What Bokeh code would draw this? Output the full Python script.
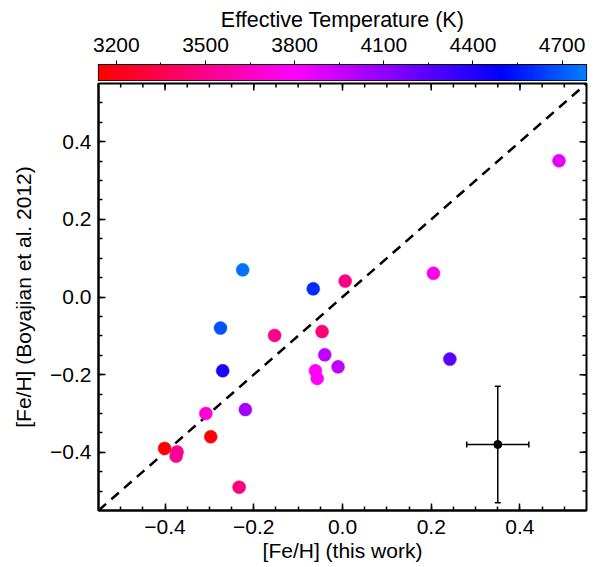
import numpy as np
from bokeh.plotting import figure
from bokeh.models import (LinearColorMapper, FixedTicker, Range1d, Slope,
                          Whisker, ColumnDataSource, CustomJSTickFormatter, TeeHead)
from bokeh.layouts import column
from bokeh.transform import transform
from bokeh.embed import file_html
from bokeh.resources import INLINE

# ---- data ----
feh_this = [-0.225, -0.066, 0.006, -0.275, -0.153, -0.046, -0.040, -0.061, -0.057, -0.010,
            -0.270, -0.308, -0.219, -0.297, -0.401, -0.373, -0.375, -0.233, 0.488, 0.205, 0.242]
feh_boy = [0.070, 0.021, 0.041, -0.080, -0.099, -0.089, -0.149, -0.190, -0.210, -0.180,
           -0.190, -0.300, -0.290, -0.360, -0.390, -0.399, -0.410, -0.490, 0.351, 0.061, -0.160]
teff = [4750, 4600, 3480, 4680, 3500, 3450, 3980, 3780, 3790, 3980,
        4420, 3700, 4050, 3160, 3143, 3530, 3530, 3460, 3880, 3760, 4250]
err_x = [0.35]
err_y = [-0.38]
err_dx = [0.07]
err_dy = [0.15]
feh_ticks = [-0.4, -0.2, 0.0, 0.2, 0.4]
teff_ticks = [3200, 3500, 3800, 4100, 4400, 4700]
teff_low, teff_high = 3140, 4782
lim = 0.55

FONT = "Liberation Sans"
FS = "21px"

# palette: red -> magenta -> blue -> light blue
stops_t = [teff_low, 3800, 4500, teff_high]
stops_c = [(255, 0, 0), (255, 0, 255), (0, 0, 255), (0, 125, 255)]
tt = np.linspace(teff_low, teff_high, 256)
palette = []
for t in tt:
    r = int(round(np.interp(t, stops_t, [c[0] for c in stops_c])))
    g = int(round(np.interp(t, stops_t, [c[1] for c in stops_c])))
    b = int(round(np.interp(t, stops_t, [c[2] for c in stops_c])))
    palette.append("#%02x%02x%02x" % (r, g, b))
mapper = LinearColorMapper(palette=palette, low=teff_low, high=teff_high)

fmt = CustomJSTickFormatter(code="return (tick < -1e-9 ? '\u2212' : '') + Math.abs(tick).toFixed(1);")
minor = [m for m in np.round(np.arange(-0.55, 0.551, 0.05), 3) if abs(m) < lim]


def style_axis(ax):
    ax.ticker = FixedTicker(ticks=feh_ticks, minor_ticks=minor)
    ax.major_tick_in = 7
    ax.major_tick_out = 0
    ax.minor_tick_in = 4
    ax.minor_tick_out = 0
    ax.major_tick_line_width = 1.5
    ax.minor_tick_line_width = 1.5
    ax.major_tick_line_color = "black"
    ax.minor_tick_line_color = "black"
    ax.axis_line_width = 2
    ax.axis_line_color = "black"
    ax.formatter = fmt
    ax.major_label_text_font = FONT
    ax.major_label_text_font_size = FS
    ax.major_label_text_color = "black"
    ax.axis_label_text_font = FONT
    ax.axis_label_text_font_size = FS
    ax.axis_label_text_font_style = "normal"
    ax.axis_label_text_color = "black"


p = figure(width=595, height=485, x_range=Range1d(-lim, lim), y_range=Range1d(-lim, lim),
           output_backend="svg", toolbar_location=None,
           min_border_left=96, min_border_right=6, min_border_top=2, min_border_bottom=56)
p.grid.visible = False
p.outline_line_color = "black"
p.outline_line_width = 2

style_axis(p.xaxis[0])
style_axis(p.yaxis[0])
p.xaxis[0].axis_label = "[Fe/H] (this work)"
p.yaxis[0].axis_label = "[Fe/H] (Boyajian et al. 2012)"
p.xaxis[0].major_label_standoff = 9
p.yaxis[0].major_label_standoff = 7
p.xaxis[0].axis_label_standoff = 2
p.yaxis[0].axis_label_standoff = 12

# tick marks on the top and right frame edges (drawn from the tick lists)
fw, fh = 493.0, 427.0  # frame size in px
sx, sy = fw / (2 * lim), fh / (2 * lim)
maj_len, min_len = 7.0, 4.0
p.segment(x0=feh_ticks, x1=feh_ticks, y0=[lim] * len(feh_ticks),
          y1=[lim - maj_len / sy] * len(feh_ticks), line_color="black", line_width=1.5)
p.segment(x0=minor, x1=minor, y0=[lim] * len(minor),
          y1=[lim - min_len / sy] * len(minor), line_color="black", line_width=1.5)
p.segment(y0=feh_ticks, y1=feh_ticks, x0=[lim] * len(feh_ticks),
          x1=[lim - maj_len / sx] * len(feh_ticks), line_color="black", line_width=1.5)
p.segment(y0=minor, y1=minor, x0=[lim] * len(minor),
          x1=[lim - min_len / sx] * len(minor), line_color="black", line_width=1.5)

p.add_layout(Slope(gradient=1, y_intercept=0, line_color="black", line_width=2.5,
                   line_dash="10 7", level="underlay"))

src = ColumnDataSource(dict(x=feh_this, y=feh_boy, teff=teff))
p.scatter("x", "y", source=src, size=13, fill_color=transform("teff", mapper),
          line_color=transform("teff", mapper), line_width=0.5)

esrc = ColumnDataSource(dict(x=err_x, y=err_y,
                             xl=[err_x[0] - err_dx[0]], xu=[err_x[0] + err_dx[0]],
                             yl=[err_y[0] - err_dy[0]], yu=[err_y[0] + err_dy[0]]))
p.add_layout(Whisker(source=esrc, base="x", lower="yl", upper="yu", dimension="height",
                     line_color="black", line_width=1.5,
                     upper_head=TeeHead(size=6, line_width=1.5), lower_head=TeeHead(size=6, line_width=1.5)))
p.add_layout(Whisker(source=esrc, base="y", lower="xl", upper="xu", dimension="width",
                     line_color="black", line_width=1.5,
                     upper_head=TeeHead(size=6, line_width=1.5), lower_head=TeeHead(size=6, line_width=1.5)))
p.scatter("x", "y", source=esrc, size=8, color="black")

# ---- colorbar figure ----
cb = figure(width=595, height=81, x_range=Range1d(teff_low, teff_high), y_range=Range1d(0, 1),
            output_backend="svg", toolbar_location=None, x_axis_location="above",
            min_border_left=98, min_border_right=9, min_border_top=64, min_border_bottom=1)
cb.grid.visible = False
cb.yaxis.visible = False
cb.outline_line_color = "black"
cb.outline_line_width = 1.2
cb.image(image=[np.linspace(teff_low, teff_high, 600).reshape(1, -1)], x=teff_low, y=0,
         dw=teff_high - teff_low, dh=1, color_mapper=mapper)
cax = cb.xaxis[0]
cax.ticker = FixedTicker(ticks=teff_ticks, minor_ticks=list(range(3050, 4800, 150)))
cax.major_tick_out = 4
cax.major_tick_in = 0
cax.minor_tick_out = 2
cax.minor_tick_in = 0
cax.major_tick_line_color = "black"
cax.minor_tick_line_color = "black"
cax.axis_line_color = "black"
cax.axis_line_width = 1.2
cax.major_label_text_font = FONT
cax.major_label_text_font_size = FS
cax.major_label_text_color = "black"
cax.major_label_standoff = 9
cax.axis_label = "Effective Temperature (K)"
cax.axis_label_text_font = FONT
cax.axis_label_text_font_size = "21.5px"
cax.axis_label_text_font_style = "normal"
cax.axis_label_text_color = "black"
cax.axis_label_standoff = 3

layout = column(cb, p, spacing=0)
open("out.html", "w").write(file_html(layout, INLINE))
